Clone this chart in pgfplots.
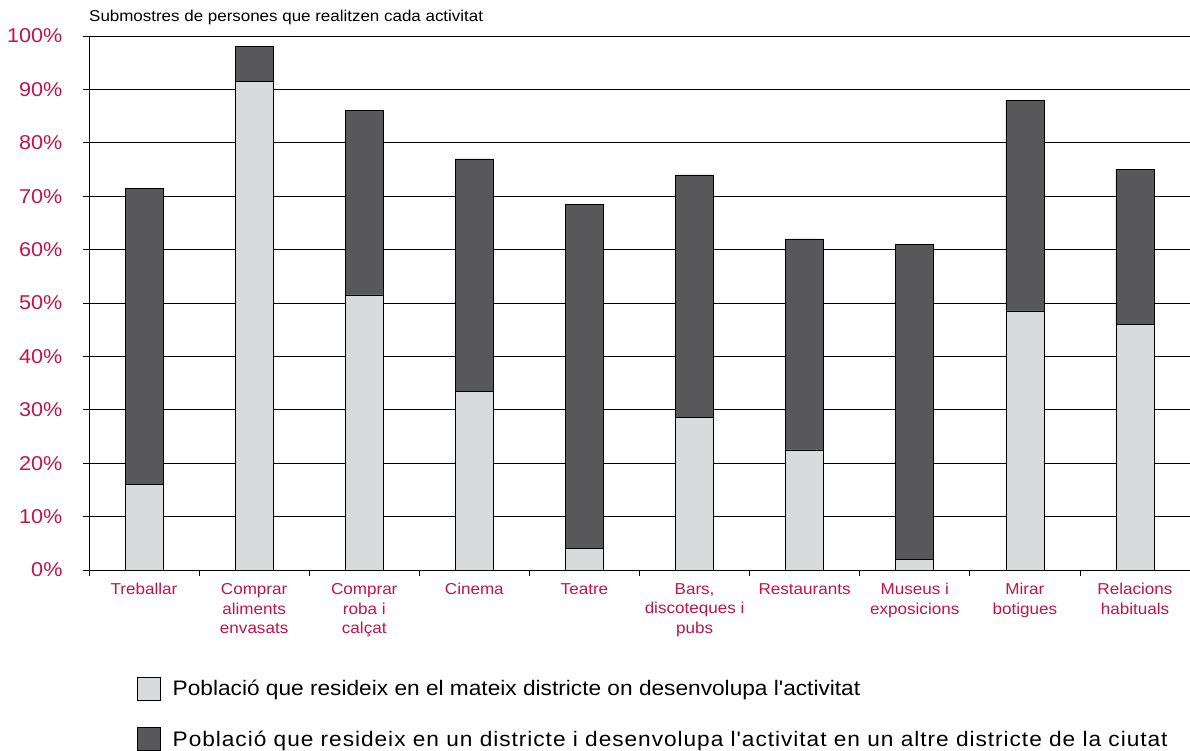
\documentclass[border=0pt]{standalone}
\usepackage{fontspec}
\setmainfont{Liberation Sans}[FakeStretch=1.08, Ligatures=TeXOff]
\usepackage{pgfplots}
\pgfplotsset{compat=1.18}
\definecolor{lightbar}{RGB}{217,218,220}
\definecolor{darkbar}{RGB}{88,88,90}
\definecolor{crim}{RGB}{196,18,72}
\begin{document}
\begin{tikzpicture}
\begin{axis}[
    scale only axis,
    width=1101pt, height=534pt,
    ybar stacked, bar width=38pt,
    ymin=0, ymax=100, xmin=-0.5, xmax=9.5,
    axis x line=bottom, axis y line=left,
    axis line style={-, black, line width=0.7pt},
    ytick={0,10,...,100},
    yticklabel={\pgfmathprintnumber{\tick}\%},
    /pgf/number format/assume math mode=true,
    ymajorgrids, grid style={black, line width=0.7pt},
    tick align=outside, major tick length=6pt, minor tick length=6pt,
    tick style={black, line width=0.7pt},
    xtick={0,...,9},
    major x tick style={draw=none},
    minor xtick={-0.5,0.5,...,9.5},
    xticklabels={Treballar, {Comprar\\aliments\\envasats}, {Comprar\\roba i\\calçat}, Cinema, Teatre,
        {Bars,\\discoteques i\\pubs}, Restaurants, {Museus i\\exposicions}, {Mirar\\botigues}, {Relacions\\habituals}},
    xticklabel style={align=center, text=crim, font=\fontsize{15.8}{19.5}\selectfont, anchor=north, yshift=-4pt},
    yticklabel style={text=crim, font=\fontsize{20}{22}\selectfont, xshift=-17pt},
    legend style={at={(rel axis cs:0.0436,-0.2)}, anchor=north west, draw=none, fill=none,
        font=\fontsize{21}{23}\selectfont, row sep=27pt, inner sep=0pt,
        /tikz/every odd column/.append style={column sep=10pt}},
    legend cell align=left,
    legend image code/.code={\draw[#1, draw=black, line width=0.5pt] (0pt,-11.5pt) rectangle (23pt,11.5pt);},
    clip=false,
]
\addplot[fill=lightbar, draw=black, line width=0.6pt] coordinates {
    (0,16) (1,91.5) (2,51.5) (3,33.5) (4,4) (5,28.5) (6,22.5) (7,2) (8,48.5) (9,46)};
\addlegendentry{Població que resideix en el mateix districte on desenvolupa l'activitat}
\addplot[fill=darkbar, draw=black, line width=0.6pt] coordinates {
    (0,55.5) (1,6.5) (2,34.5) (3,43.5) (4,64.5) (5,45.5) (6,39.5) (7,59) (8,39.5) (9,29)};
\addlegendentry{\addfontfeature{LetterSpace=4.6}Població que resideix en un districte i desenvolupa l'activitat en un altre districte de la ciutat}
\coordinate (sw) at (rel axis cs:0,0);
\coordinate (ne) at (rel axis cs:1,1);
\node[anchor=base west, font=\fontsize{15.7}{18}\selectfont, inner sep=0pt] at ([yshift=14pt]rel axis cs:0,1) {Submostres de persones que realitzen cada activitat};
\end{axis}
\pgfresetboundingbox
\path ([xshift=-89pt,yshift=-181pt]sw) rectangle ([yshift=36pt]ne);
\end{tikzpicture}
\end{document}
